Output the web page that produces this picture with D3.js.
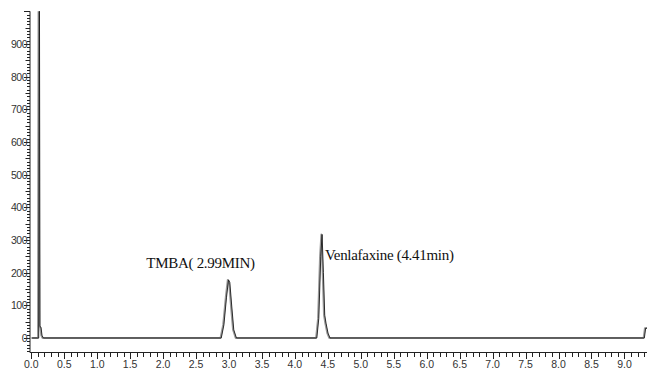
<!DOCTYPE html>
<html><head><meta charset="utf-8">
<script src="https://cdn.jsdelivr.net/npm/d3@7"></script>
<style>body{margin:0;background:#fff}svg{display:block}</style>
</head><body>
<svg id="c" width="647" height="371"></svg>
<script>
// Retention time (min) and detector response
const times  = [0.00,0.10,0.11,0.12,0.135,0.15,0.17,2.87,2.91,2.95,2.98,3.00,3.03,3.06,3.10,4.32,4.35,4.38,4.40,4.42,4.44,4.46,4.49,4.52,9.29,9.31,9.35];
const values = [0,   0,   1200,35,  33,   8,   0,   0,   40,  125, 178, 170, 95,  25,  0,   0,   60,  250, 317, 200, 70,  45,  15,  0,   0,   30,  30];
const yTickLabels = [0,100,200,300,400,500,600,700,800,900];
const xTickLabels = [0.0,0.5,1.0,1.5,2.0,2.5,3.0,3.5,4.0,4.5,5.0,5.5,6.0,6.5,7.0,7.5,8.0,8.5,9.0];
const peakNames = ["TMBA( 2.99MIN)","Venlafaxine (4.41min)"];
const peakTimes = [2.99,4.41];

const svg = d3.select("#c");
const x = d3.scaleLinear().domain([-0.02,9.35]).range([30,647.5]);
const y = d3.scaleLinear().domain([-45,1000]).range([352.7,11.3]);

svg.append("defs").append("clipPath").attr("id","clip")
  .append("rect").attr("x",30).attr("y",y(1000)).attr("width",620).attr("height",y(-45)-y(1000));

// Y axis
const yMinor = d3.range(-40,1001,10);
const ax = svg.append("g").attr("stroke","#222").attr("stroke-width",1);
ax.append("line").attr("x1",30).attr("x2",30).attr("y1",y(1000)).attr("y2",y(-45));
ax.selectAll(".yt").data(yMinor).join("line")
  .attr("x1",30).attr("x2",d=> d%100===0?24:(d%50===0?25.5:27))
  .attr("y1",d=>Math.round(y(d))+0.5).attr("y2",d=>Math.round(y(d))+0.5);
svg.selectAll(".yl").data(yTickLabels).join("text")
  .attr("x",27).attr("y",d=>y(d)+4).attr("text-anchor","end")
  .attr("font-family","Liberation Sans, Arial, sans-serif").attr("font-size",10.5)
  .attr("letter-spacing",-0.5).attr("fill","#333").text(d=>d);

// X axis
const xMinor = d3.range(0,94).map(i=>i/10);
ax.append("line").attr("x1",30).attr("x2",647).attr("y1",352.5).attr("y2",352.5);
ax.selectAll(".xt").data(xMinor).join("line")
  .attr("x1",d=>Math.round(x(d))+0.5).attr("x2",d=>Math.round(x(d))+0.5)
  .attr("y1",352.5).attr("y2",(d,i)=> i%5===0?359:357);
svg.selectAll(".xl").data(xTickLabels).join("text")
  .attr("x",d=>x(d)).attr("y",368).attr("text-anchor","middle")
  .attr("font-family","Liberation Sans, Arial, sans-serif").attr("font-size",10.5)
  .attr("fill","#333").text(d=>d.toFixed(1));

// Trace
const pts = times.map((t,i)=>[t,values[i]]);
const line = d3.line().x(d=>x(d[0])).y(d=>y(d[1]));
const g = svg.append("g").attr("clip-path","url(#clip)");
g.append("path").datum(pts).attr("d",line).attr("fill","none")
  .attr("stroke","#999").attr("stroke-width",1.8).attr("stroke-linejoin","round");
g.append("path").datum(pts).attr("d",line).attr("fill","none")
  .attr("transform","translate(0.8,0)")
  .attr("stroke","#1a1a1a").attr("stroke-width",0.9).attr("stroke-linejoin","round");

// Peak labels
svg.selectAll(".pl").data(peakNames).join("text")
  .attr("x",(d,i)=> i===0 ? x(peakTimes[i])-82 : x(peakTimes[i])+3)
  .attr("y",(d,i)=> i===0 ? 268 : 260)
  .attr("font-family","Liberation Serif, Times New Roman, serif").attr("font-size",15)
  .attr("letter-spacing",-0.3).attr("fill","#111").text(d=>d);
</script>
</body></html>
